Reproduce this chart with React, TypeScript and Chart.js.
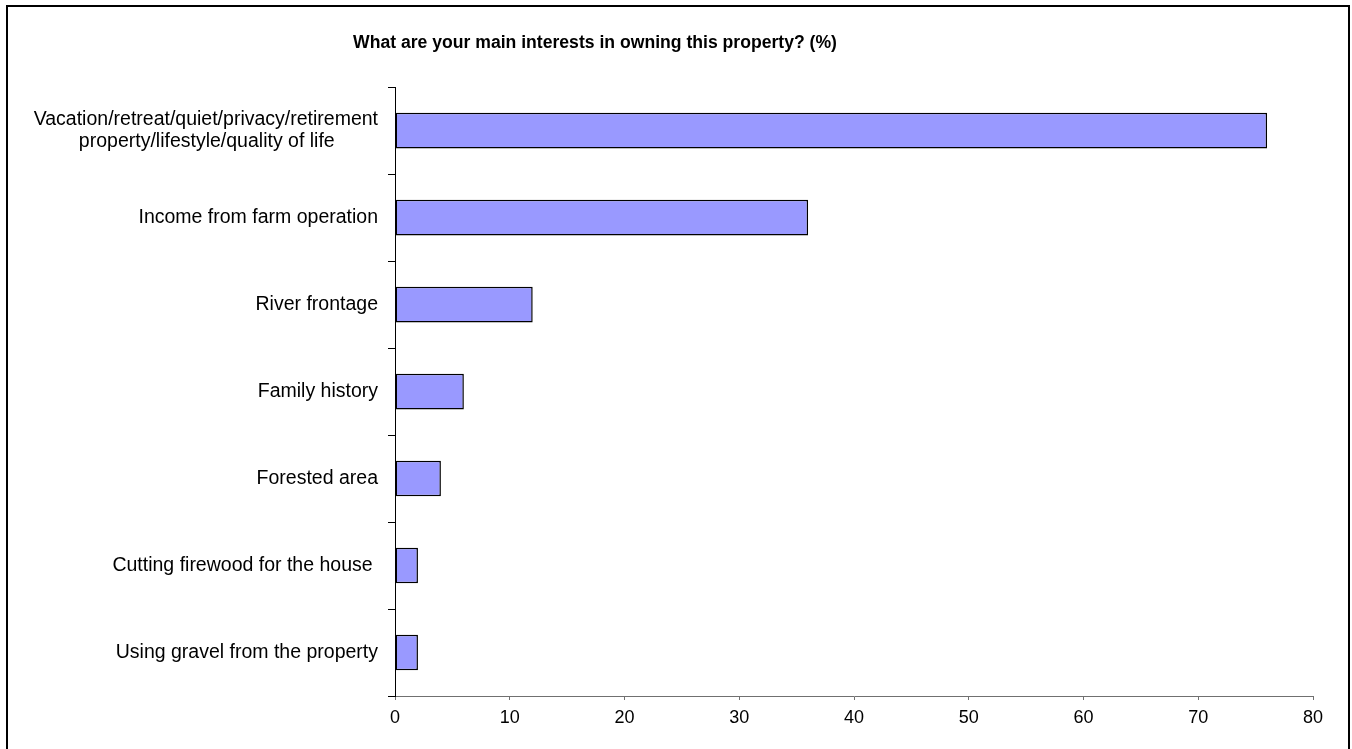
import React, { useEffect, useRef } from "react";
import { Chart, registerables } from "chart.js";

Chart.register(...registerables);

const TITLE = "What are your main interests in owning this property? (%)";

const CATEGORIES: (string | string[])[] = [
  ["Vacation/retreat/quiet/privacy/retirement", "property/lifestyle/quality of life        "],
  "Income from farm operation",
  "River frontage",
  "Family history",
  "Forested area",
  "Cutting firewood for the house ",
  "Using gravel from the property",
];

const VALUES: number[] = [76, 36, 12, 6, 4, 2, 2];

const X_MIN = 0;
const X_MAX = 80;
const X_STEP = 10;

const FONT = "'Liberation Sans', Arial, Helvetica, sans-serif";

const PAD_LEFT = -131;
const PAD_RIGHT = 34;

export default function App() {
  const canvasRef = useRef<HTMLCanvasElement | null>(null);

  useEffect(() => {
    const canvas = canvasRef.current;
    if (!canvas) return;
    const chart = new Chart(canvas, {
      type: "bar",
      data: {
        labels: CATEGORIES,
        datasets: [
          {
            data: VALUES,
            backgroundColor: "#9999FF",
            borderColor: "#000000",
            borderWidth: 1.5,
            borderSkipped: false,
            categoryPercentage: 1,
            barPercentage: 0.41,
          },
        ],
      },
      options: {
        indexAxis: "y",
        responsive: false,
        animation: false,
        devicePixelRatio: 1,
        layout: { padding: { left: PAD_LEFT, right: PAD_RIGHT, top: 0, bottom: 0 } },
        plugins: {
          legend: { display: false },
          tooltip: { enabled: false },
          title: {
            display: true,
            text: TITLE,
            color: "#000000",
            font: { family: FONT, size: 17.6, weight: "bold", lineHeight: 1.2 },
            padding: { top: 26, bottom: 33 },
          },
        },
        scales: {
          x: {
            type: "linear",
            min: X_MIN,
            max: X_MAX,
            position: "bottom",
            afterFit: (scale: any) => {
              scale.height = 53;
            },
            ticks: {
              stepSize: X_STEP,
              color: "#000000",
              padding: 7,
              font: { family: FONT, size: 18 },
              maxRotation: 0,
            },
            grid: {
              drawOnChartArea: false,
              drawTicks: true,
              tickLength: 4,
              color: "#707070",
            },
            border: { display: true, color: "#707070", width: 1 },
          },
          y: {
            type: "category",
            position: "left",
            afterFit: (scale: any) => {
              scale.width = 387 - PAD_LEFT;
            },
            ticks: {
              color: "#000000",
              padding: 10,
              crossAlign: "near",
              font: { family: FONT, size: 19.5, lineHeight: 1.12 },
            },
            grid: {
              offset: true,
              drawOnChartArea: false,
              drawTicks: true,
              tickLength: 7,
              color: "#000000",
            },
            border: { display: true, color: "#000000", width: 1 },
          },
        },
      },
    });
    return () => chart.destroy();
  }, []);

  return (
    <>
      <div
        style={{
          position: "fixed",
          left: 6,
          top: 5,
          width: 1344,
          height: 760,
          boxSizing: "border-box",
          border: "2px solid #000",
          background: "#fff",
        }}
      />
      <canvas
        ref={canvasRef}
        width={1339}
        height={742}
        style={{ position: "fixed", left: 8, top: 7, width: 1339, height: 742 }}
      />
    </>
  );
}
